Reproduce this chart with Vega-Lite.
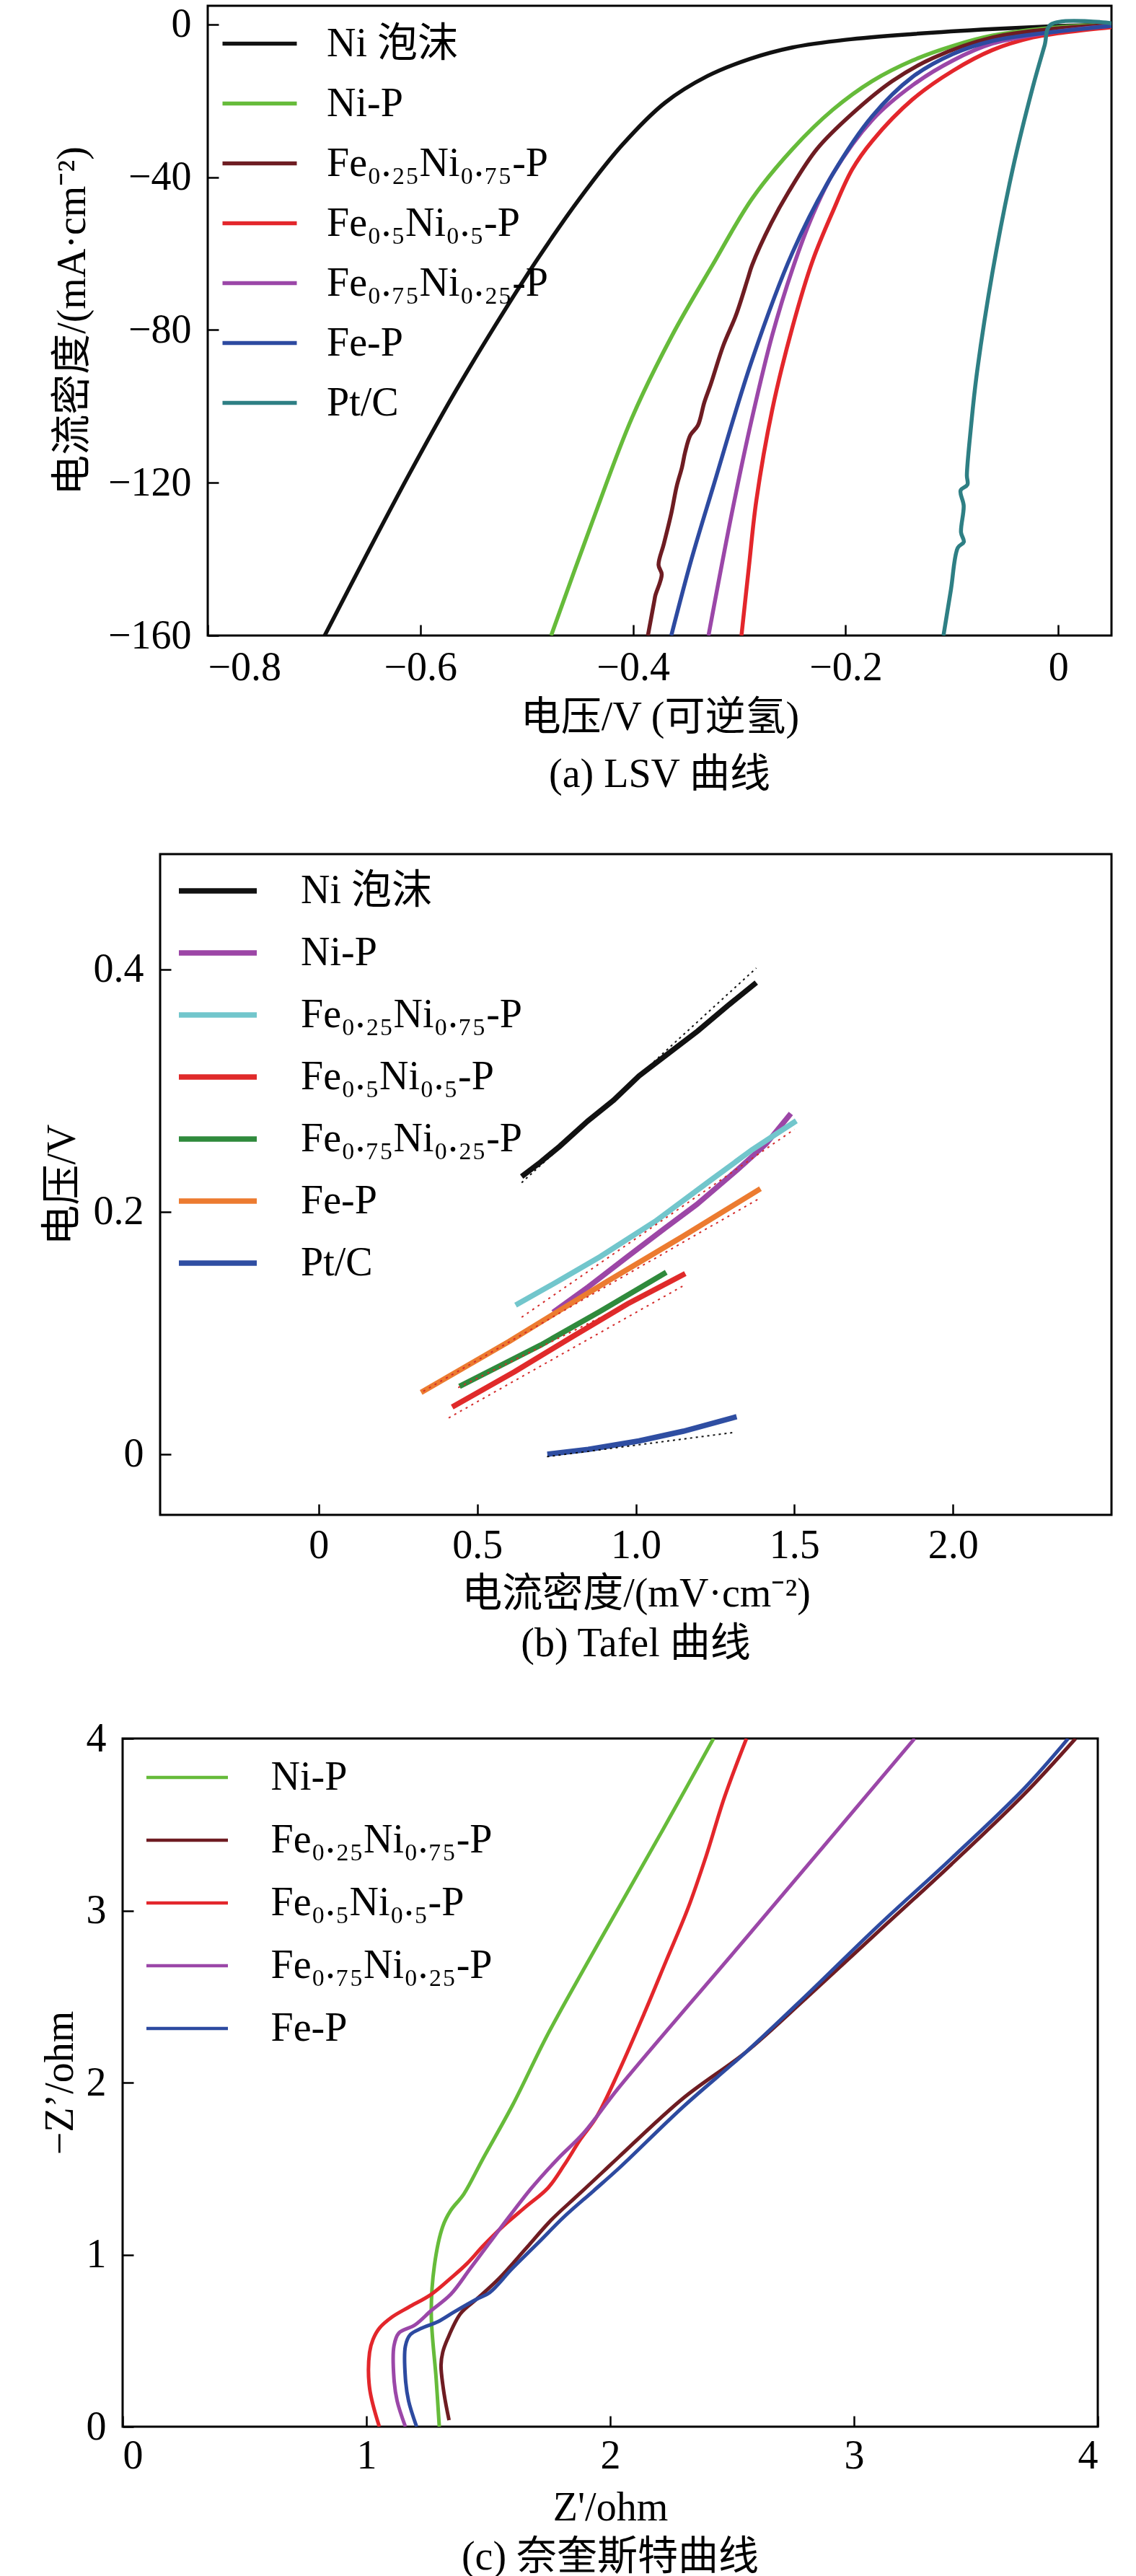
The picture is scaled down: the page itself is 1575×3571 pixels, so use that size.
{
  "$schema": "https://vega.github.io/schema/vega-lite/v6.json",
  "background": "white",
  "padding": {"left": 50, "top": 4, "right": 0, "bottom": 0},
  "spacing": 71,
  "config": {
    "view": {"stroke": "black", "strokeWidth": 3},
    "axis": {
      "grid": false,
      "domain": false,
      "tickColor": "black",
      "tickWidth": 2.5,
      "tickSize": -15,
      "labelFont": "Liberation Serif, Times New Roman, serif",
      "labelFontSize": 56,
      "labelColor": "black",
      "titleFont": "Liberation Serif, Noto Sans CJK SC",
      "titleFontSize": 56,
      "titleFontWeight": "normal",
      "titleColor": "black"
    },
    "axisX": {"labelPadding": 30},
    "axisY": {"labelPadding": 38},
    "legend": {
      "orient": "top-left",
      "title": null,
      "symbolType": "stroke",
      "labelFont": "Liberation Serif, Noto Sans CJK SC",
      "labelFontSize": 56,
      "labelColor": "black",
      "labelLimit": 700,
      "padding": 0
    },
    "title": {
      "orient": "bottom",
      "font": "Liberation Serif, Noto Sans CJK SC",
      "fontSize": 56,
      "fontWeight": "normal",
      "color": "black"
    }
  },
  "datasets": {
    "lsv": [
      {"s": "Ni 泡沫", "x": -0.690, "y": -160},
      {"s": "Ni 泡沫", "x": -0.650, "y": -138.5},
      {"s": "Ni 泡沫", "x": -0.610, "y": -117.5},
      {"s": "Ni 泡沫", "x": -0.570, "y": -97.5},
      {"s": "Ni 泡沫", "x": -0.530, "y": -79},
      {"s": "Ni 泡沫", "x": -0.490, "y": -61.5},
      {"s": "Ni 泡沫", "x": -0.450, "y": -45.5},
      {"s": "Ni 泡沫", "x": -0.410, "y": -31.5},
      {"s": "Ni 泡沫", "x": -0.370, "y": -20.5},
      {"s": "Ni 泡沫", "x": -0.330, "y": -13.5},
      {"s": "Ni 泡沫", "x": -0.290, "y": -9.0},
      {"s": "Ni 泡沫", "x": -0.250, "y": -6.0},
      {"s": "Ni 泡沫", "x": -0.200, "y": -4.0},
      {"s": "Ni 泡沫", "x": -0.137, "y": -2.5},
      {"s": "Ni 泡沫", "x": -0.062, "y": -1.2},
      {"s": "Ni 泡沫", "x": 0.0, "y": -0.4},
      {"s": "Ni 泡沫", "x": 0.05, "y": 0},
      {"s": "Ni-P", "x": -0.477, "y": -160},
      {"s": "Ni-P", "x": -0.438, "y": -130},
      {"s": "Ni-P", "x": -0.401, "y": -103},
      {"s": "Ni-P", "x": -0.363, "y": -81.3},
      {"s": "Ni-P", "x": -0.325, "y": -62.9},
      {"s": "Ni-P", "x": -0.288, "y": -45.6},
      {"s": "Ni-P", "x": -0.250, "y": -32.6},
      {"s": "Ni-P", "x": -0.212, "y": -22.3},
      {"s": "Ni-P", "x": -0.175, "y": -14.8},
      {"s": "Ni-P", "x": -0.137, "y": -9.4},
      {"s": "Ni-P", "x": -0.099, "y": -5.6},
      {"s": "Ni-P", "x": -0.062, "y": -2.9},
      {"s": "Ni-P", "x": 0.0, "y": -0.7},
      {"s": "Ni-P", "x": 0.05, "y": 0},
      {"s": "Fe₀.₂₅Ni₀.₇₅-P", "x": -0.386, "y": -160},
      {"s": "Fe₀.₂₅Ni₀.₇₅-P", "x": -0.380, "y": -151},
      {"s": "Fe₀.₂₅Ni₀.₇₅-P", "x": -0.379, "y": -149.5},
      {"s": "Fe₀.₂₅Ni₀.₇₅-P", "x": -0.373, "y": -144},
      {"s": "Fe₀.₂₅Ni₀.₇₅-P", "x": -0.376, "y": -141.5},
      {"s": "Fe₀.₂₅Ni₀.₇₅-P", "x": -0.371, "y": -136},
      {"s": "Fe₀.₂₅Ni₀.₇₅-P", "x": -0.364, "y": -128},
      {"s": "Fe₀.₂₅Ni₀.₇₅-P", "x": -0.359, "y": -121},
      {"s": "Fe₀.₂₅Ni₀.₇₅-P", "x": -0.354, "y": -116},
      {"s": "Fe₀.₂₅Ni₀.₇₅-P", "x": -0.351, "y": -112},
      {"s": "Fe₀.₂₅Ni₀.₇₅-P", "x": -0.346, "y": -107.5},
      {"s": "Fe₀.₂₅Ni₀.₇₅-P", "x": -0.339, "y": -105},
      {"s": "Fe₀.₂₅Ni₀.₇₅-P", "x": -0.333, "y": -99},
      {"s": "Fe₀.₂₅Ni₀.₇₅-P", "x": -0.327, "y": -94.3},
      {"s": "Fe₀.₂₅Ni₀.₇₅-P", "x": -0.315, "y": -84},
      {"s": "Fe₀.₂₅Ni₀.₇₅-P", "x": -0.303, "y": -76},
      {"s": "Fe₀.₂₅Ni₀.₇₅-P", "x": -0.292, "y": -66.5},
      {"s": "Fe₀.₂₅Ni₀.₇₅-P", "x": -0.288, "y": -63},
      {"s": "Fe₀.₂₅Ni₀.₇₅-P", "x": -0.270, "y": -52},
      {"s": "Fe₀.₂₅Ni₀.₇₅-P", "x": -0.254, "y": -44},
      {"s": "Fe₀.₂₅Ni₀.₇₅-P", "x": -0.227, "y": -32.6},
      {"s": "Fe₀.₂₅Ni₀.₇₅-P", "x": -0.194, "y": -23.4},
      {"s": "Fe₀.₂₅Ni₀.₇₅-P", "x": -0.156, "y": -14.8},
      {"s": "Fe₀.₂₅Ni₀.₇₅-P", "x": -0.118, "y": -8.8},
      {"s": "Fe₀.₂₅Ni₀.₇₅-P", "x": -0.062, "y": -3.4},
      {"s": "Fe₀.₂₅Ni₀.₇₅-P", "x": 0.0, "y": -1.0},
      {"s": "Fe₀.₂₅Ni₀.₇₅-P", "x": 0.05, "y": -0.2},
      {"s": "Fe₀.₅Ni₀.₅-P", "x": -0.298, "y": -160},
      {"s": "Fe₀.₅Ni₀.₅-P", "x": -0.291, "y": -142},
      {"s": "Fe₀.₅Ni₀.₅-P", "x": -0.284, "y": -124.6},
      {"s": "Fe₀.₅Ni₀.₅-P", "x": -0.269, "y": -100.8},
      {"s": "Fe₀.₅Ni₀.₅-P", "x": -0.250, "y": -79.2},
      {"s": "Fe₀.₅Ni₀.₅-P", "x": -0.231, "y": -61.8},
      {"s": "Fe₀.₅Ni₀.₅-P", "x": -0.212, "y": -48.9},
      {"s": "Fe₀.₅Ni₀.₅-P", "x": -0.194, "y": -38},
      {"s": "Fe₀.₅Ni₀.₅-P", "x": -0.175, "y": -30.5},
      {"s": "Fe₀.₅Ni₀.₅-P", "x": -0.137, "y": -19.6},
      {"s": "Fe₀.₅Ni₀.₅-P", "x": -0.099, "y": -12.1},
      {"s": "Fe₀.₅Ni₀.₅-P", "x": -0.062, "y": -6.7},
      {"s": "Fe₀.₅Ni₀.₅-P", "x": -0.024, "y": -3.4},
      {"s": "Fe₀.₅Ni₀.₅-P", "x": 0.0, "y": -2.3},
      {"s": "Fe₀.₅Ni₀.₅-P", "x": 0.05, "y": -0.7},
      {"s": "Fe₀.₇₅Ni₀.₂₅-P", "x": -0.329, "y": -160},
      {"s": "Fe₀.₇₅Ni₀.₂₅-P", "x": -0.307, "y": -127.9},
      {"s": "Fe₀.₇₅Ni₀.₂₅-P", "x": -0.288, "y": -103},
      {"s": "Fe₀.₇₅Ni₀.₂₅-P", "x": -0.269, "y": -81.3},
      {"s": "Fe₀.₇₅Ni₀.₂₅-P", "x": -0.250, "y": -64},
      {"s": "Fe₀.₇₅Ni₀.₂₅-P", "x": -0.231, "y": -49.9},
      {"s": "Fe₀.₇₅Ni₀.₂₅-P", "x": -0.212, "y": -39.1},
      {"s": "Fe₀.₇₅Ni₀.₂₅-P", "x": -0.175, "y": -25},
      {"s": "Fe₀.₇₅Ni₀.₂₅-P", "x": -0.137, "y": -15.9},
      {"s": "Fe₀.₇₅Ni₀.₂₅-P", "x": -0.099, "y": -9.4},
      {"s": "Fe₀.₇₅Ni₀.₂₅-P", "x": -0.062, "y": -5},
      {"s": "Fe₀.₇₅Ni₀.₂₅-P", "x": 0.0, "y": -1.8},
      {"s": "Fe₀.₇₅Ni₀.₂₅-P", "x": 0.05, "y": -0.4},
      {"s": "Fe-P", "x": -0.364, "y": -160},
      {"s": "Fe-P", "x": -0.345, "y": -140},
      {"s": "Fe-P", "x": -0.325, "y": -121.4},
      {"s": "Fe-P", "x": -0.288, "y": -87.8},
      {"s": "Fe-P", "x": -0.250, "y": -59.7},
      {"s": "Fe-P", "x": -0.212, "y": -39.1},
      {"s": "Fe-P", "x": -0.175, "y": -24},
      {"s": "Fe-P", "x": -0.137, "y": -13.7},
      {"s": "Fe-P", "x": -0.099, "y": -7.7},
      {"s": "Fe-P", "x": -0.062, "y": -4.3},
      {"s": "Fe-P", "x": 0.0, "y": -1.8},
      {"s": "Fe-P", "x": 0.05, "y": -0.4},
      {"s": "Pt/C", "x": -0.108, "y": -160},
      {"s": "Pt/C", "x": -0.101, "y": -148},
      {"s": "Pt/C", "x": -0.0945, "y": -137},
      {"s": "Pt/C", "x": -0.0889, "y": -135.5},
      {"s": "Pt/C", "x": -0.0915, "y": -133},
      {"s": "Pt/C", "x": -0.089, "y": -126},
      {"s": "Pt/C", "x": -0.0919, "y": -122},
      {"s": "Pt/C", "x": -0.0855, "y": -120.5},
      {"s": "Pt/C", "x": -0.086, "y": -118},
      {"s": "Pt/C", "x": -0.082, "y": -105},
      {"s": "Pt/C", "x": -0.077, "y": -92.2},
      {"s": "Pt/C", "x": -0.062, "y": -65},
      {"s": "Pt/C", "x": -0.043, "y": -38},
      {"s": "Pt/C", "x": -0.024, "y": -16.4},
      {"s": "Pt/C", "x": -0.013, "y": -5.6},
      {"s": "Pt/C", "x": -0.007, "y": 0},
      {"s": "Pt/C", "x": 0.05, "y": 0.3}
    ],
    "tafel": [
      {"s": "Ni 泡沫", "x": 0.640, "y": 0.229},
      {"s": "Ni 泡沫", "x": 0.700, "y": 0.241},
      {"s": "Ni 泡沫", "x": 0.760, "y": 0.254},
      {"s": "Ni 泡沫", "x": 0.849, "y": 0.275},
      {"s": "Ni 泡沫", "x": 0.930, "y": 0.292},
      {"s": "Ni 泡沫", "x": 1.010, "y": 0.312},
      {"s": "Ni 泡沫", "x": 1.100, "y": 0.330},
      {"s": "Ni 泡沫", "x": 1.195, "y": 0.349},
      {"s": "Ni 泡沫", "x": 1.290, "y": 0.370},
      {"s": "Ni 泡沫", "x": 1.380, "y": 0.389},
      {"s": "Ni-P", "x": 0.739, "y": 0.117},
      {"s": "Ni-P", "x": 0.850, "y": 0.138},
      {"s": "Ni-P", "x": 0.974, "y": 0.163},
      {"s": "Ni-P", "x": 1.090, "y": 0.186},
      {"s": "Ni-P", "x": 1.192, "y": 0.206},
      {"s": "Ni-P", "x": 1.322, "y": 0.235},
      {"s": "Ni-P", "x": 1.411, "y": 0.256},
      {"s": "Ni-P", "x": 1.489, "y": 0.281},
      {"s": "Fe₀.₂₅Ni₀.₇₅-P", "x": 0.621, "y": 0.123},
      {"s": "Fe₀.₂₅Ni₀.₇₅-P", "x": 0.750, "y": 0.142},
      {"s": "Fe₀.₂₅Ni₀.₇₅-P", "x": 0.888, "y": 0.163},
      {"s": "Fe₀.₂₅Ni₀.₇₅-P", "x": 1.061, "y": 0.192},
      {"s": "Fe₀.₂₅Ni₀.₇₅-P", "x": 1.236, "y": 0.226},
      {"s": "Fe₀.₂₅Ni₀.₇₅-P", "x": 1.366, "y": 0.251},
      {"s": "Fe₀.₂₅Ni₀.₇₅-P", "x": 1.506, "y": 0.275},
      {"s": "Fe₀.₅Ni₀.₅-P", "x": 0.421, "y": 0.039},
      {"s": "Fe₀.₅Ni₀.₅-P", "x": 0.617, "y": 0.068},
      {"s": "Fe₀.₅Ni₀.₅-P", "x": 0.800, "y": 0.097},
      {"s": "Fe₀.₅Ni₀.₅-P", "x": 0.974, "y": 0.124},
      {"s": "Fe₀.₅Ni₀.₅-P", "x": 1.156, "y": 0.149},
      {"s": "Fe₀.₇₅Ni₀.₂₅-P", "x": 0.444, "y": 0.056},
      {"s": "Fe₀.₇₅Ni₀.₂₅-P", "x": 0.700, "y": 0.090},
      {"s": "Fe₀.₇₅Ni₀.₂₅-P", "x": 0.888, "y": 0.118},
      {"s": "Fe₀.₇₅Ni₀.₂₅-P", "x": 1.096, "y": 0.150},
      {"s": "Fe-P", "x": 0.323, "y": 0.051},
      {"s": "Fe-P", "x": 0.600, "y": 0.093},
      {"s": "Fe-P", "x": 0.900, "y": 0.141},
      {"s": "Fe-P", "x": 1.150, "y": 0.180},
      {"s": "Fe-P", "x": 1.393, "y": 0.219},
      {"s": "Pt/C", "x": 0.721, "y": 0.000},
      {"s": "Pt/C", "x": 0.850, "y": 0.004},
      {"s": "Pt/C", "x": 1.010, "y": 0.011},
      {"s": "Pt/C", "x": 1.150, "y": 0.019},
      {"s": "Pt/C", "x": 1.318, "y": 0.031}
    ],
    "tafelfitk": [
      {"f": "Ni 泡沫", "x": 0.64, "y": 0.224},
      {"f": "Ni 泡沫", "x": 1.38, "y": 0.401},
      {"f": "Pt/C", "x": 0.72, "y": -0.002},
      {"f": "Pt/C", "x": 1.31, "y": 0.018}
    ],
    "tafelfitr": [
      {"f": "Fe₀.₂₅Ni₀.₇₅-P", "x": 0.64, "y": 0.113},
      {"f": "Fe₀.₂₅Ni₀.₇₅-P", "x": 1.50, "y": 0.268},
      {"f": "Fe₀.₅Ni₀.₅-P", "x": 0.41, "y": 0.030},
      {"f": "Fe₀.₅Ni₀.₅-P", "x": 1.15, "y": 0.139},
      {"f": "Fe₀.₇₅Ni₀.₂₅-P", "x": 0.44, "y": 0.055},
      {"f": "Fe₀.₇₅Ni₀.₂₅-P", "x": 1.10, "y": 0.140},
      {"f": "Fe-P", "x": 0.33, "y": 0.052},
      {"f": "Fe-P", "x": 1.39, "y": 0.211}
    ],
    "nyquist": [
      {"s": "Ni-P", "x": 1.299, "y": 0},
      {"s": "Ni-P", "x": 1.286, "y": 0.281},
      {"s": "Ni-P", "x": 1.266, "y": 0.657},
      {"s": "Ni-P", "x": 1.279, "y": 0.938},
      {"s": "Ni-P", "x": 1.313, "y": 1.163},
      {"s": "Ni-P", "x": 1.346, "y": 1.257},
      {"s": "Ni-P", "x": 1.399, "y": 1.351},
      {"s": "Ni-P", "x": 1.479, "y": 1.560},
      {"s": "Ni-P", "x": 1.600, "y": 1.870},
      {"s": "Ni-P", "x": 1.740, "y": 2.270},
      {"s": "Ni-P", "x": 1.900, "y": 2.680},
      {"s": "Ni-P", "x": 2.060, "y": 3.080},
      {"s": "Ni-P", "x": 2.240, "y": 3.530},
      {"s": "Ni-P", "x": 2.424, "y": 4.0},
      {"s": "Fe₀.₂₅Ni₀.₇₅-P", "x": 1.339, "y": 0.038},
      {"s": "Fe₀.₂₅Ni₀.₇₅-P", "x": 1.319, "y": 0.188},
      {"s": "Fe₀.₂₅Ni₀.₇₅-P", "x": 1.306, "y": 0.356},
      {"s": "Fe₀.₂₅Ni₀.₇₅-P", "x": 1.313, "y": 0.432},
      {"s": "Fe₀.₂₅Ni₀.₇₅-P", "x": 1.332, "y": 0.507},
      {"s": "Fe₀.₂₅Ni₀.₇₅-P", "x": 1.386, "y": 0.657},
      {"s": "Fe₀.₂₅Ni₀.₇₅-P", "x": 1.452, "y": 0.741},
      {"s": "Fe₀.₂₅Ni₀.₇₅-P", "x": 1.545, "y": 0.863},
      {"s": "Fe₀.₂₅Ni₀.₇₅-P", "x": 1.652, "y": 1.032},
      {"s": "Fe₀.₂₅Ni₀.₇₅-P", "x": 1.758, "y": 1.201},
      {"s": "Fe₀.₂₅Ni₀.₇₅-P", "x": 1.864, "y": 1.341},
      {"s": "Fe₀.₂₅Ni₀.₇₅-P", "x": 1.971, "y": 1.482},
      {"s": "Fe₀.₂₅Ni₀.₇₅-P", "x": 2.035, "y": 1.567},
      {"s": "Fe₀.₂₅Ni₀.₇₅-P", "x": 2.300, "y": 1.910},
      {"s": "Fe₀.₂₅Ni₀.₇₅-P", "x": 2.559, "y": 2.180},
      {"s": "Fe₀.₂₅Ni₀.₇₅-P", "x": 2.799, "y": 2.485},
      {"s": "Fe₀.₂₅Ni₀.₇₅-P", "x": 3.099, "y": 2.877},
      {"s": "Fe₀.₂₅Ni₀.₇₅-P", "x": 3.399, "y": 3.268},
      {"s": "Fe₀.₂₅Ni₀.₇₅-P", "x": 3.699, "y": 3.677},
      {"s": "Fe₀.₂₅Ni₀.₇₅-P", "x": 3.909, "y": 4.0},
      {"s": "Fe₀.₅Ni₀.₅-P", "x": 1.053, "y": 0},
      {"s": "Fe₀.₅Ni₀.₅-P", "x": 1.013, "y": 0.225},
      {"s": "Fe₀.₅Ni₀.₅-P", "x": 1.013, "y": 0.432},
      {"s": "Fe₀.₅Ni₀.₅-P", "x": 1.027, "y": 0.507},
      {"s": "Fe₀.₅Ni₀.₅-P", "x": 1.053, "y": 0.572},
      {"s": "Fe₀.₅Ni₀.₅-P", "x": 1.106, "y": 0.638},
      {"s": "Fe₀.₅Ni₀.₅-P", "x": 1.173, "y": 0.694},
      {"s": "Fe₀.₅Ni₀.₅-P", "x": 1.266, "y": 0.769},
      {"s": "Fe₀.₅Ni₀.₅-P", "x": 1.346, "y": 0.863},
      {"s": "Fe₀.₅Ni₀.₅-P", "x": 1.412, "y": 0.947},
      {"s": "Fe₀.₅Ni₀.₅-P", "x": 1.479, "y": 1.051},
      {"s": "Fe₀.₅Ni₀.₅-P", "x": 1.559, "y": 1.163},
      {"s": "Fe₀.₅Ni₀.₅-P", "x": 1.652, "y": 1.276},
      {"s": "Fe₀.₅Ni₀.₅-P", "x": 1.745, "y": 1.388},
      {"s": "Fe₀.₅Ni₀.₅-P", "x": 1.811, "y": 1.520},
      {"s": "Fe₀.₅Ni₀.₅-P", "x": 1.878, "y": 1.670},
      {"s": "Fe₀.₅Ni₀.₅-P", "x": 1.944, "y": 1.800},
      {"s": "Fe₀.₅Ni₀.₅-P", "x": 2.035, "y": 2.064},
      {"s": "Fe₀.₅Ni₀.₅-P", "x": 2.139, "y": 2.400},
      {"s": "Fe₀.₅Ni₀.₅-P", "x": 2.229, "y": 2.706},
      {"s": "Fe₀.₅Ni₀.₅-P", "x": 2.319, "y": 3.013},
      {"s": "Fe₀.₅Ni₀.₅-P", "x": 2.394, "y": 3.319},
      {"s": "Fe₀.₅Ni₀.₅-P", "x": 2.469, "y": 3.660},
      {"s": "Fe₀.₅Ni₀.₅-P", "x": 2.559, "y": 4.0},
      {"s": "Fe₀.₇₅Ni₀.₂₅-P", "x": 1.160, "y": 0},
      {"s": "Fe₀.₇₅Ni₀.₂₅-P", "x": 1.126, "y": 0.150},
      {"s": "Fe₀.₇₅Ni₀.₂₅-P", "x": 1.113, "y": 0.281},
      {"s": "Fe₀.₇₅Ni₀.₂₅-P", "x": 1.113, "y": 0.469},
      {"s": "Fe₀.₇₅Ni₀.₂₅-P", "x": 1.133, "y": 0.544},
      {"s": "Fe₀.₇₅Ni₀.₂₅-P", "x": 1.199, "y": 0.591},
      {"s": "Fe₀.₇₅Ni₀.₂₅-P", "x": 1.266, "y": 0.675},
      {"s": "Fe₀.₇₅Ni₀.₂₅-P", "x": 1.346, "y": 0.769},
      {"s": "Fe₀.₇₅Ni₀.₂₅-P", "x": 1.426, "y": 0.919},
      {"s": "Fe₀.₇₅Ni₀.₂₅-P", "x": 1.505, "y": 1.069},
      {"s": "Fe₀.₇₅Ni₀.₂₅-P", "x": 1.585, "y": 1.220},
      {"s": "Fe₀.₇₅Ni₀.₂₅-P", "x": 1.678, "y": 1.388},
      {"s": "Fe₀.₇₅Ni₀.₂₅-P", "x": 1.785, "y": 1.557},
      {"s": "Fe₀.₇₅Ni₀.₂₅-P", "x": 1.891, "y": 1.707},
      {"s": "Fe₀.₇₅Ni₀.₂₅-P", "x": 2.035, "y": 1.970},
      {"s": "Fe₀.₇₅Ni₀.₂₅-P", "x": 2.559, "y": 2.843},
      {"s": "Fe₀.₇₅Ni₀.₂₅-P", "x": 3.249, "y": 4.0},
      {"s": "Fe-P", "x": 1.206, "y": 0},
      {"s": "Fe-P", "x": 1.173, "y": 0.150},
      {"s": "Fe-P", "x": 1.160, "y": 0.281},
      {"s": "Fe-P", "x": 1.160, "y": 0.469},
      {"s": "Fe-P", "x": 1.180, "y": 0.535},
      {"s": "Fe-P", "x": 1.226, "y": 0.572},
      {"s": "Fe-P", "x": 1.293, "y": 0.610},
      {"s": "Fe-P", "x": 1.359, "y": 0.666},
      {"s": "Fe-P", "x": 1.452, "y": 0.741},
      {"s": "Fe-P", "x": 1.505, "y": 0.779},
      {"s": "Fe-P", "x": 1.598, "y": 0.919},
      {"s": "Fe-P", "x": 1.705, "y": 1.069},
      {"s": "Fe-P", "x": 1.811, "y": 1.220},
      {"s": "Fe-P", "x": 1.931, "y": 1.370},
      {"s": "Fe-P", "x": 2.035, "y": 1.501},
      {"s": "Fe-P", "x": 2.300, "y": 1.860},
      {"s": "Fe-P", "x": 2.559, "y": 2.180},
      {"s": "Fe-P", "x": 2.799, "y": 2.500},
      {"s": "Fe-P", "x": 3.099, "y": 2.911},
      {"s": "Fe-P", "x": 3.399, "y": 3.302},
      {"s": "Fe-P", "x": 3.699, "y": 3.711},
      {"s": "Fe-P", "x": 3.879, "y": 4.0}
    ]
  },
  "vconcat": [
    {
      "spacing": 0,
      "resolve": {"scale": {"color": "independent"}, "legend": {"color": "independent"}},
      "hconcat": [
        {
          "width": 20,
          "height": 1,
          "view": {"stroke": "transparent", "strokeWidth": 0, "fill": "transparent"},
          "data": {"values": []},
          "mark": "point"
        },
        {
          "width": 1253,
          "height": 873,
          "title": {"text": "(a) LSV 曲线", "offset": 25},
          "data": {"name": "lsv"},
          "mark": {"type": "line", "strokeWidth": 5.5, "clip": true, "interpolate": "catmull-rom"},
          "encoding": {
            "x": {
              "field": "x",
              "type": "quantitative",
              "scale": {"domain": [-0.8, 0.05], "nice": false, "zero": false},
              "axis": {
                "title": "电压/V (可逆氢)",
                "labelPadding": 32,
                "titlePadding": 14,
                "values": [-0.8, -0.6, -0.4, -0.2, 0],
                "labelExpr": "datum.value == 0 ? '0' : format(datum.value, '.1f')"
              }
            },
            "y": {
              "field": "y",
              "type": "quantitative",
              "scale": {"domain": [-160, 4.9], "nice": false, "zero": false},
              "axis": {"title": "电流密度/(mA·cm⁻²)", "titlePadding": 20, "values": [-160, -120, -80, -40, 0]}
            },
            "color": {
              "field": "s",
              "type": "nominal",
              "scale": {
                "domain": ["Ni 泡沫", "Ni-P", "Fe₀.₂₅Ni₀.₇₅-P", "Fe₀.₅Ni₀.₅-P", "Fe₀.₇₅Ni₀.₂₅-P", "Fe-P", "Pt/C"],
                "range": ["#111111", "#66bb3a", "#6e1c22", "#e3262b", "#9b47a8", "#2d4aa0", "#2e7f84"]
              },
              "legend": {
                "offset": -2.5,
                "symbolSize": 10609,
                "symbolStrokeWidth": 5.5,
                "symbolOffset": 19.5,
                "labelOffset": 38.5,
                "rowPadding": -25
              }
            },
            "order": {"value": null}
          }
        }
      ]
    },
    {
      "spacing": 0,
      "resolve": {"scale": {"color": "independent"}, "legend": {"color": "independent"}},
      "hconcat": [
        {
          "width": 6,
          "height": 1,
          "view": {"stroke": "transparent", "strokeWidth": 0, "fill": "transparent"},
          "data": {"values": []},
          "mark": "point"
        },
        {
          "width": 1319,
          "height": 916,
          "title": {"text": "(b) Tafel 曲线", "offset": 15},
          "encoding": {
            "x": {
              "field": "x",
              "type": "quantitative",
              "scale": {"domain": [-0.5, 2.5], "nice": false, "zero": false},
              "axis": {
                "title": "电流密度/(mV·cm⁻²)",
                "labelPadding": 30,
                "titlePadding": 12,
                "values": [0, 0.5, 1, 1.5, 2],
                "labelExpr": "datum.value == 0 ? '0' : format(datum.value, '.1f')"
              }
            },
            "y": {
              "field": "y",
              "type": "quantitative",
              "scale": {"domain": [-0.05, 0.495], "nice": false, "zero": false},
              "axis": {
                "title": "电压/V",
                "titlePadding": 14,
                "values": [0, 0.2, 0.4],
                "labelExpr": "datum.value == 0 ? '0' : format(datum.value, '.1f')"
              }
            }
          },
          "layer": [
            {
              "data": {"name": "tafel"},
              "mark": {"type": "line", "strokeWidth": 7.5, "clip": true},
              "encoding": {
                "color": {
                  "field": "s",
                  "type": "nominal",
                  "scale": {
                    "domain": ["Ni 泡沫", "Ni-P", "Fe₀.₂₅Ni₀.₇₅-P", "Fe₀.₅Ni₀.₅-P", "Fe₀.₇₅Ni₀.₂₅-P", "Fe-P", "Pt/C"],
                    "range": ["#111111", "#9c46a6", "#72c6cc", "#e02a2a", "#2f8a3c", "#ec7b30", "#2f4ea2"]
                  },
                  "legend": {
                    "offset": -7,
                    "symbolSize": 11664,
                    "symbolStrokeWidth": 7.5,
                    "symbolOffset": 29,
                    "labelOffset": 57,
                    "rowPadding": -25
                  }
                },
                "order": {"value": null}
              }
            },
            {
              "data": {"name": "tafelfitk"},
              "mark": {"type": "line", "strokeWidth": 2, "strokeDash": [3, 5], "color": "#111111", "clip": true},
              "encoding": {"detail": {"field": "f", "type": "nominal"}}
            },
            {
              "data": {"name": "tafelfitr"},
              "mark": {"type": "line", "strokeWidth": 2, "strokeDash": [3, 6], "color": "#d42a2a", "clip": true},
              "encoding": {"detail": {"field": "f", "type": "nominal"}}
            }
          ]
        }
      ]
    },
    {
      "spacing": 0,
      "resolve": {"scale": {"color": "independent"}, "legend": {"color": "independent"}},
      "hconcat": [
        {
          "width": 3,
          "height": 1,
          "view": {"stroke": "transparent", "strokeWidth": 0, "fill": "transparent"},
          "data": {"values": []},
          "mark": "point"
        },
        {
          "width": 1352,
          "height": 954,
          "title": {"text": "(c) 奈奎斯特曲线", "offset": 14},
          "data": {"name": "nyquist"},
          "mark": {"type": "line", "strokeWidth": 5, "clip": true, "interpolate": "catmull-rom"},
          "encoding": {
            "x": {
              "field": "x",
              "type": "quantitative",
              "scale": {"domain": [0, 4], "nice": false},
              "axis": {"title": "Z'/ohm", "labelPadding": 28, "titlePadding": 17, "values": [0, 1, 2, 3, 4]}
            },
            "y": {
              "field": "y",
              "type": "quantitative",
              "scale": {"domain": [0, 4], "nice": false},
              "axis": {"title": "−Z’/ohm", "titlePadding": 7, "values": [0, 1, 2, 3, 4]}
            },
            "color": {
              "field": "s",
              "type": "nominal",
              "scale": {
                "domain": ["Ni-P", "Fe₀.₂₅Ni₀.₇₅-P", "Fe₀.₅Ni₀.₅-P", "Fe₀.₇₅Ni₀.₂₅-P", "Fe-P"],
                "range": ["#66bb3a", "#6e1c22", "#e3262b", "#9b47a8", "#2d4aa0"]
              },
              "legend": {
                "offset": -5,
                "symbolSize": 12769,
                "symbolStrokeWidth": 4.7,
                "symbolOffset": 35.5,
                "labelOffset": 57,
                "rowPadding": -12
              }
            },
            "order": {"value": null}
          }
        }
      ]
    }
  ],
  "resolve": {"scale": {"color": "independent", "x": "independent", "y": "independent"}, "legend": {"color": "independent"}}
}
